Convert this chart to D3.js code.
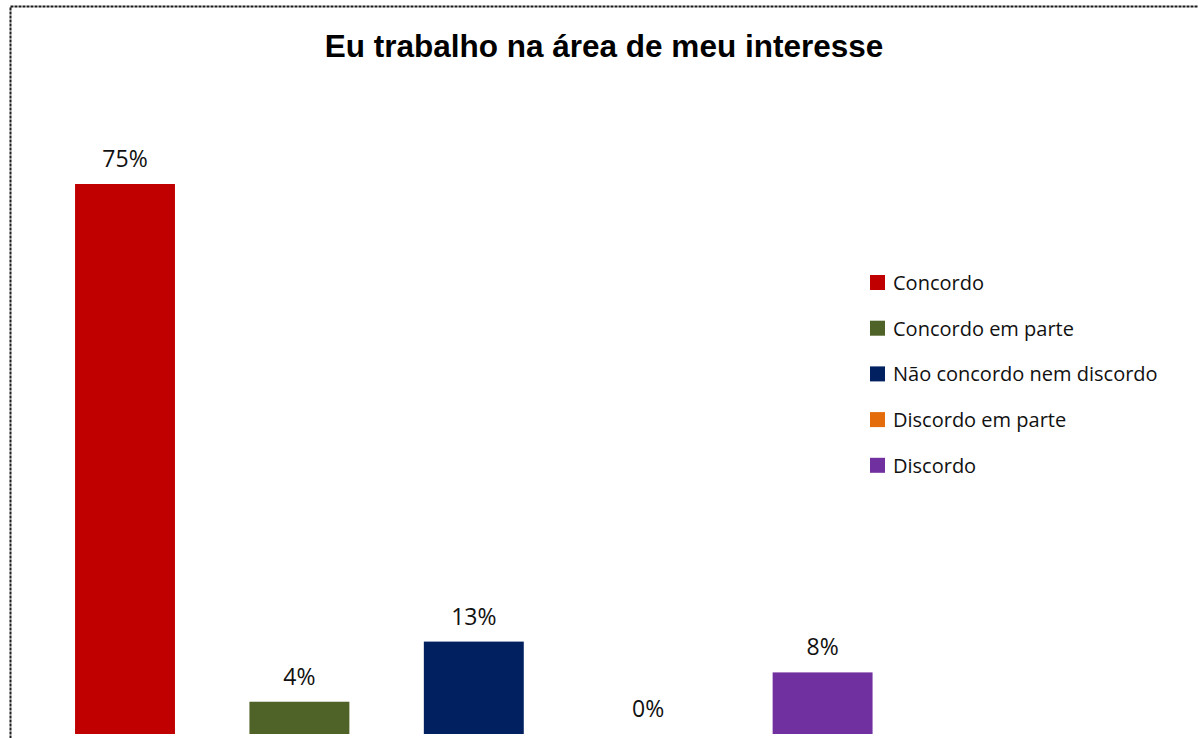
<!DOCTYPE html>
<html>
<head>
<meta charset="utf-8">
<script src="https://cdn.jsdelivr.net/npm/d3@7"></script>
<style>
  body { margin: 0; background: #fff; }
  svg { display: block; }
</style>
</head>
<body>
<svg id="chart"></svg>
<script>
// data
const categories = [
  "Concordo",
  "Concordo em parte",
  "Não concordo nem discordo",
  "Discordo em parte",
  "Discordo",
];
const values = [75, 4.4, 12.6, 0, 8.4];
const colors = ["#C00000", "#4F6228", "#002060", "#E46C0A", "#7030A0"];
const title = "Eu trabalho na área de meu interesse";

const width = 1198;
const height = 738;

const svg = d3.select("#chart").attr("width", width).attr("height", height);

// chart area border (only top and left visible in the crop)
svg
  .append("rect")
  .attr("x", 10.5)
  .attr("y", 6.5)
  .attr("width", width + 20)
  .attr("height", height + 20)
  .attr("fill", "none")
  .attr("stroke", "#1a1a1a")
  .attr("stroke-width", 2)
  .attr("stroke-dasharray", "3,1");

// title
svg
  .append("text")
  .attr("x", 604)
  .attr("y", 57)
  .attr("text-anchor", "middle")
  .style("font-family", "'Liberation Sans', Arial, sans-serif")
  .style("font-weight", "bold")
  .style("font-size", "31.5px")
  .text(title);

// scales
const x = d3
  .scaleBand()
  .domain(categories)
  .range([37.8, 909.8])
  .paddingInner(0.427)
  .paddingOuter(0.2135);

const y = d3.scaleLinear().domain([0, 75]).range([734, 184]);

// bars
svg
  .selectAll("rect.bar")
  .data(categories)
  .enter()
  .append("rect")
  .attr("class", "bar")
  .attr("x", (d) => x(d))
  .attr("width", x.bandwidth())
  .attr("y", (d, i) => y(values[i]))
  .attr("height", (d, i) => y(0) - y(values[i]))
  .attr("fill", (d, i) => colors[i]);

// value labels
svg
  .selectAll("text.label")
  .data(categories)
  .enter()
  .append("text")
  .attr("class", "label")
  .attr("x", (d) => x(d) + x.bandwidth() / 2)
  .attr("y", (d, i) => y(values[i]) - 17)
  .attr("text-anchor", "middle")
  .style("font-family", "'Open Sans', sans-serif")
  .style("font-size", "23px")
  .attr("fill", "#111")
  .text((d, i) => Math.round(values[i]) + "%");

// legend
const legend = svg
  .selectAll("g.legend")
  .data(categories)
  .enter()
  .append("g")
  .attr("class", "legend")
  .attr("transform", (d, i) => `translate(870, ${275 + i * 45.7})`);

legend
  .append("rect")
  .attr("width", 15)
  .attr("height", 15)
  .attr("fill", (d, i) => colors[i]);

legend
  .append("text")
  .attr("x", 23)
  .attr("y", 15)
  .style("font-family", "'Open Sans', sans-serif")
  .style("font-size", "20px")
  .attr("fill", "#111")
  .text((d) => d);
</script>
</body>
</html>
